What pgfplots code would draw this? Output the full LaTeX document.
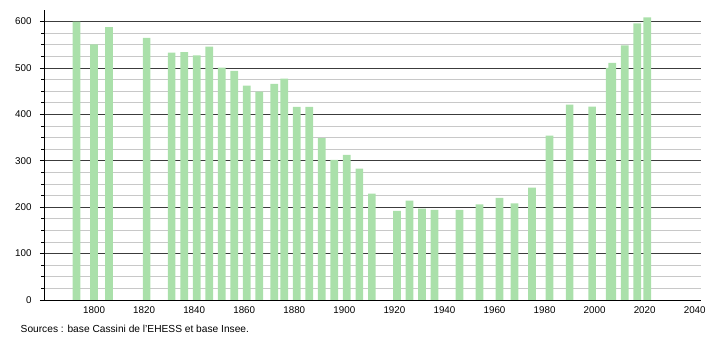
\documentclass[border=0pt]{standalone}
\usepackage{pgfplots}
\pgfplotsset{compat=1.18}
\usepackage{fontspec}
\setmainfont{Liberation Sans}
\definecolor{barc}{RGB}{170,224,170}
\definecolor{majg}{RGB}{60,60,60}
\definecolor{ming}{RGB}{200,200,200}
\begin{document}
\begin{tikzpicture}[x=1pt,y=1pt]
\useasboundingbox (-44,-40) rectangle (666,300);
\begin{axis}[
  at={(0,0)}, anchor=south west,
  scale only axis, width=657pt, height=290pt,
  xmin=1780, xmax=2042.5, ymin=0, ymax=625,
  axis x line=bottom, axis y line=left,
  axis line style={black, line width=0.8pt, -},
  xtick={1800,1820,...,2040},
  ytick={0,100,...,600},
  minor y tick num=3,
  tick align=outside,
  x tick style={draw=none},
  y tick style={black, line width=0.6pt},
  major tick length=4pt, minor tick length=2.5pt,
  ymajorgrids, yminorgrids,
  major grid style={majg, line width=0.8pt},
  minor grid style={ming, line width=0.8pt},
  tick label style={font=\fontsize{9.8}{11}\selectfont},
  yticklabel style={xshift=-5pt},
  xticklabel style={yshift=1pt},
  /pgf/number format/assume math mode=true,
  /pgf/number format/1000 sep={},
  clip=false,
]
\addplot[ybar, bar width=7.7pt, bar shift=0pt, fill=barc, draw=none] coordinates {
(1793,600) (1800,551) (1806,588) (1821,565) (1831,533) (1836,534) (1841,527)
(1846,546) (1851,501) (1856,494) (1861,462) (1866,449) (1872,466) (1876,477)
(1881,416) (1886,416) (1891,349) (1896,302) (1901,313) (1906,283) (1911,229)
(1921,192) (1926,214) (1931,197) (1936,194) (1946,194) (1954,206) (1962,220)
(1968,208) (1975,242) (1982,354) (1990,421) (1999,417) (2006,500) (2007,511)
(2012,549) (2017,596) (2021,609)
};
\end{axis}
\node[anchor=base west, inner sep=0pt, font=\fontsize{10.2}{12}\selectfont] at (-23.5,-33) {Sources : base Cassini de l'EHESS et base Insee.};
\end{tikzpicture}
\end{document}
